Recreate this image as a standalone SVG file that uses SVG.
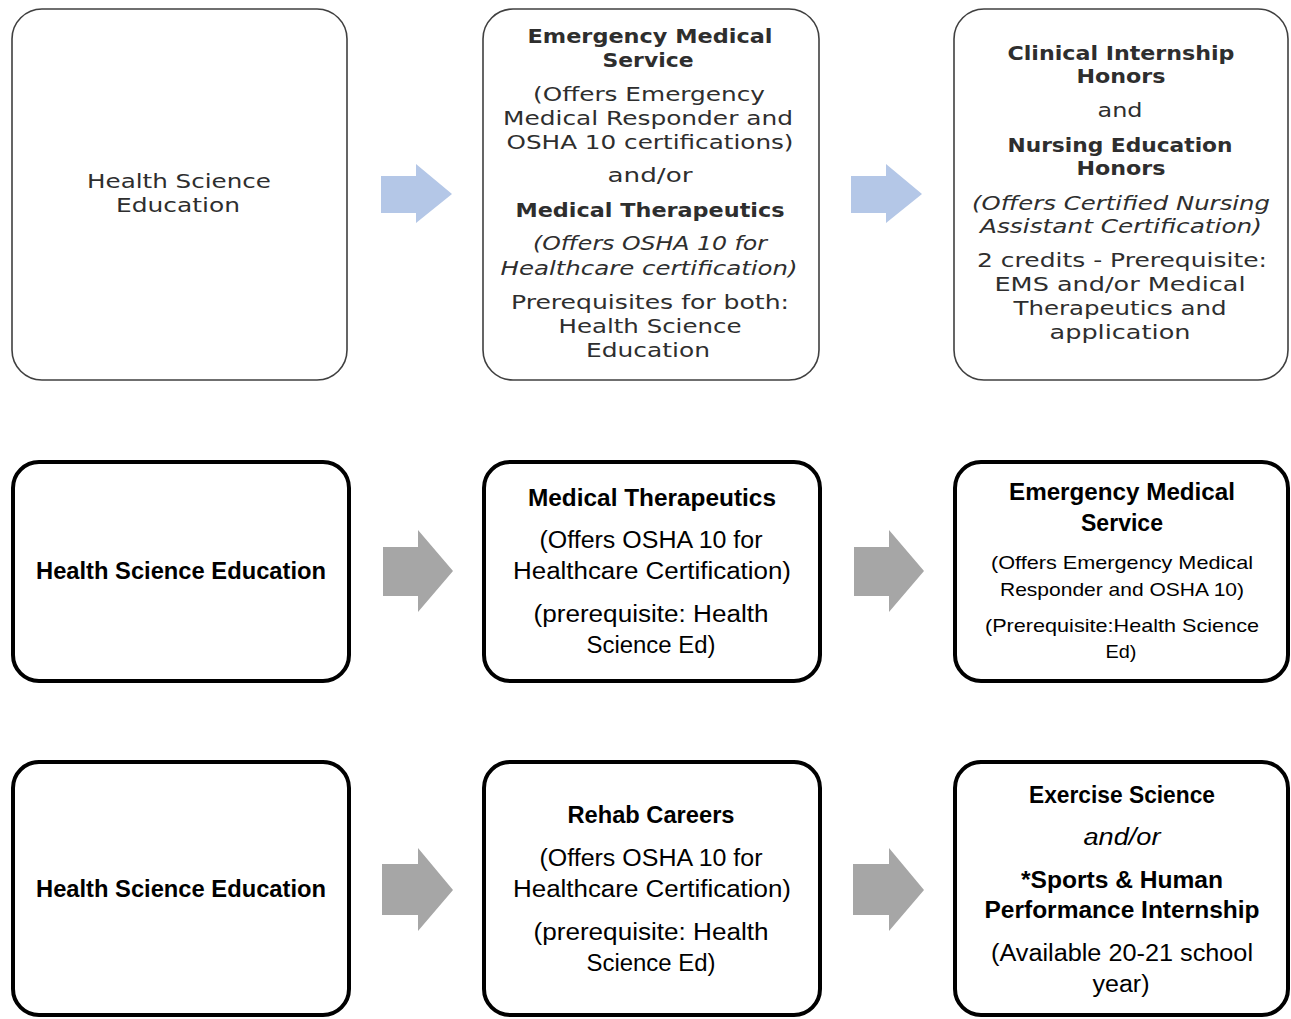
<svg xmlns="http://www.w3.org/2000/svg" width="1291" height="1019" viewBox="0 0 1291 1019">
<style>
.bg{fill:#ffffff}
.tbox{fill:#ffffff;stroke:#404040;stroke-width:1.6}
.box{fill:#ffffff;stroke:#000000;stroke-width:4}
.ablue{fill:#b4c7e7}
.agray{fill:#a6a6a6}
.t{font-family:"DejaVu Sans",Verdana,sans-serif;font-size:19.5px;fill:#2e2e2e;text-anchor:middle}
.c{font-family:"Liberation Sans",Arial,sans-serif;font-size:23px;fill:#000000;text-anchor:middle}
.s{font-size:19px}
.b{font-weight:bold}
.i{font-style:italic}
</style>
<rect class="bg" x="0" y="0" width="1291" height="1019"/>
<g id="connectors">
<polygon class="ablue" points="381,176 416,176 416,164 452,194 416,223 416,213 381,213"/>
<polygon class="ablue" points="851,176 886,176 886,164 922,194 886,223 886,213 851,213"/>
<polygon class="agray" points="383,547 418,547 418,530 453,571 418,612 418,596 383,596"/>
<polygon class="agray" points="854,547 889,547 889,530 924,571 889,612 889,596 854,596"/>
<polygon class="agray" points="382,864 418,864 418,848 453,890 418,931 418,915 382,915"/>
<polygon class="agray" points="853,864 889,864 889,848 924,890 889,931 889,915 853,915"/>
</g>
<g id="top-hse">
<rect class="tbox" x="12" y="9" width="335" height="371" rx="30"/>
<text class="t" x="179" y="188" textLength="184" lengthAdjust="spacingAndGlyphs">Health Science</text>
<text class="t" x="178" y="212" textLength="124" lengthAdjust="spacingAndGlyphs">Education</text>
</g>
<g id="top-ems-mt">
<rect class="tbox" x="483" y="9" width="336" height="371" rx="30"/>
<text class="t b" x="650" y="43" textLength="245" lengthAdjust="spacingAndGlyphs">Emergency Medical</text>
<text class="t b" x="648" y="67" textLength="91" lengthAdjust="spacingAndGlyphs">Service</text>
<text class="t" x="649" y="101" textLength="232" lengthAdjust="spacingAndGlyphs">(Offers Emergency</text>
<text class="t" x="648" y="125" textLength="290" lengthAdjust="spacingAndGlyphs">Medical Responder and</text>
<text class="t" x="650" y="149" textLength="287" lengthAdjust="spacingAndGlyphs">OSHA 10  certifications)</text>
<text class="t" x="650" y="182" textLength="85" lengthAdjust="spacingAndGlyphs">and/or</text>
<text class="t b" x="650" y="217" textLength="269" lengthAdjust="spacingAndGlyphs">Medical Therapeutics</text>
<text class="t i" x="650" y="250" textLength="234" lengthAdjust="spacingAndGlyphs">(Offers OSHA 10 for</text>
<text class="t i" x="649" y="275" textLength="297" lengthAdjust="spacingAndGlyphs">Healthcare certification)</text>
<text class="t" x="650" y="309" textLength="278" lengthAdjust="spacingAndGlyphs">Prerequisites for both:</text>
<text class="t" x="650" y="333" textLength="183" lengthAdjust="spacingAndGlyphs">Health Science</text>
<text class="t" x="648" y="357" textLength="124" lengthAdjust="spacingAndGlyphs">Education</text>
</g>
<g id="top-honors">
<rect class="tbox" x="954" y="9" width="334" height="371" rx="30"/>
<text class="t b" x="1121" y="60" textLength="227" lengthAdjust="spacingAndGlyphs">Clinical Internship</text>
<text class="t b" x="1121" y="83" textLength="89" lengthAdjust="spacingAndGlyphs">Honors</text>
<text class="t" x="1120" y="117" textLength="45" lengthAdjust="spacingAndGlyphs">and</text>
<text class="t b" x="1120" y="152" textLength="225" lengthAdjust="spacingAndGlyphs">Nursing Education</text>
<text class="t b" x="1121" y="175" textLength="89" lengthAdjust="spacingAndGlyphs">Honors</text>
<text class="t i" x="1121" y="210" textLength="298" lengthAdjust="spacingAndGlyphs">(Offers Certified Nursing</text>
<text class="t i" x="1121" y="233" textLength="282" lengthAdjust="spacingAndGlyphs">Assistant Certification)</text>
<text class="t" x="1122" y="267" textLength="290" lengthAdjust="spacingAndGlyphs">2 credits - Prerequisite:</text>
<text class="t" x="1120" y="291" textLength="251" lengthAdjust="spacingAndGlyphs">EMS and/or Medical</text>
<text class="t" x="1120" y="315" textLength="213" lengthAdjust="spacingAndGlyphs">Therapeutics and</text>
<text class="t" x="1120" y="339" textLength="141" lengthAdjust="spacingAndGlyphs">application</text>
</g>
<g id="mid-hse">
<rect class="box" x="13" y="462" width="336" height="219" rx="26"/>
<text class="c b" x="181" y="579" textLength="290" lengthAdjust="spacingAndGlyphs">Health Science Education</text>
</g>
<g id="mid-mt">
<rect class="box" x="484" y="462" width="336" height="219" rx="26"/>
<text class="c b" x="652" y="506" textLength="248" lengthAdjust="spacingAndGlyphs">Medical Therapeutics</text>
<text class="c" x="651" y="548" textLength="223" lengthAdjust="spacingAndGlyphs">(Offers OSHA 10 for</text>
<text class="c" x="652" y="579" textLength="278" lengthAdjust="spacingAndGlyphs">Healthcare Certification)</text>
<text class="c" x="651" y="622" textLength="235" lengthAdjust="spacingAndGlyphs">(prerequisite: Health</text>
<text class="c" x="651" y="653" textLength="129" lengthAdjust="spacingAndGlyphs">Science Ed)</text>
</g>
<g id="mid-ems">
<rect class="box" x="955" y="462" width="333" height="219" rx="26"/>
<text class="c b" x="1122" y="500" textLength="226" lengthAdjust="spacingAndGlyphs">Emergency Medical</text>
<text class="c b" x="1122" y="531" textLength="82" lengthAdjust="spacingAndGlyphs">Service</text>
<text class="c s" x="1122" y="569" textLength="262" lengthAdjust="spacingAndGlyphs">(Offers Emergency Medical</text>
<text class="c s" x="1122" y="596" textLength="244" lengthAdjust="spacingAndGlyphs">Responder and OSHA 10)</text>
<text class="c s" x="1122" y="632" textLength="274" lengthAdjust="spacingAndGlyphs">(Prerequisite:Health Science</text>
<text class="c s" x="1121" y="658" textLength="31" lengthAdjust="spacingAndGlyphs">Ed)</text>
</g>
<g id="bot-hse">
<rect class="box" x="13" y="762" width="336" height="253" rx="26"/>
<text class="c b" x="181" y="897" textLength="290" lengthAdjust="spacingAndGlyphs">Health Science Education</text>
</g>
<g id="bot-rehab">
<rect class="box" x="484" y="762" width="336" height="253" rx="26"/>
<text class="c b" x="651" y="823" textLength="167" lengthAdjust="spacingAndGlyphs">Rehab Careers</text>
<text class="c" x="651" y="866" textLength="223" lengthAdjust="spacingAndGlyphs">(Offers OSHA 10 for</text>
<text class="c" x="652" y="897" textLength="278" lengthAdjust="spacingAndGlyphs">Healthcare Certification)</text>
<text class="c" x="651" y="940" textLength="235" lengthAdjust="spacingAndGlyphs">(prerequisite: Health</text>
<text class="c" x="651" y="971" textLength="129" lengthAdjust="spacingAndGlyphs">Science Ed)</text>
</g>
<g id="bot-exercise">
<rect class="box" x="955" y="762" width="333" height="253" rx="26"/>
<text class="c b" x="1122" y="803" textLength="186" lengthAdjust="spacingAndGlyphs">Exercise Science</text>
<text class="c i" x="1122" y="845" textLength="77" lengthAdjust="spacingAndGlyphs">and/or</text>
<text class="c b" x="1122" y="888" textLength="202" lengthAdjust="spacingAndGlyphs">*Sports &amp; Human</text>
<text class="c b" x="1122" y="918" textLength="275" lengthAdjust="spacingAndGlyphs">Performance Internship</text>
<text class="c" x="1122" y="961" textLength="262" lengthAdjust="spacingAndGlyphs">(Available 20-21 school</text>
<text class="c" x="1121" y="992" textLength="57" lengthAdjust="spacingAndGlyphs">year)</text>
</g>
</svg>
